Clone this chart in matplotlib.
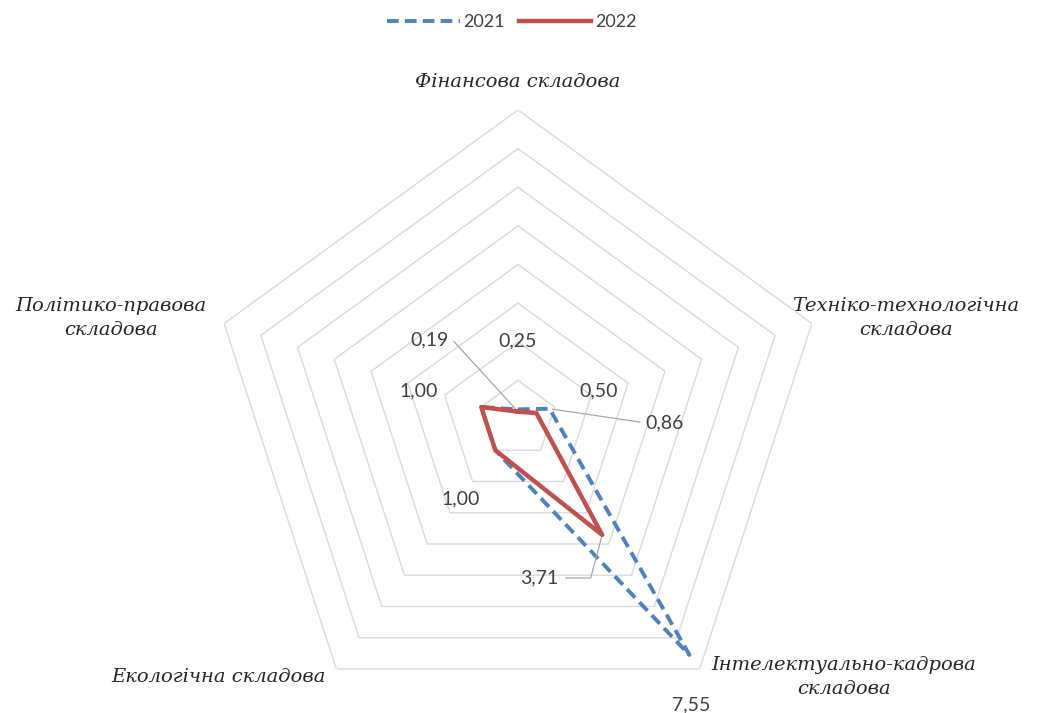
import numpy as np
import matplotlib
matplotlib.use("Agg")
import matplotlib.pyplot as plt

categories = ["Фінансова складова",
              "Техніко-технологічна\nскладова",
              "Інтелектуально-кадрова\nскладова",
              "Екологічна складова",
              "Політико-правова\nскладова"]
years = ["2021", "2022"]
values_2021 = [0.25, 0.86, 7.55, 1.00, 1.00]
values_2022 = [0.19, 0.50, 3.71, 1.00, 1.00]
rings = [1, 2, 3, 4, 5, 6, 7, 8]

W, H = 1062, 713
fig = plt.figure(figsize=(W / 100, H / 100), dpi=100)

# polar axes placed so the pentagon centre sits at (518, 419) px, radius 309 px
cx, cy, R = 518, 419, 309
ax = fig.add_axes([(cx - R) / W, (H - cy - R) / H, 2 * R / W, 2 * R / H],
                  projection="polar")
ax.set_theta_zero_location("N")
ax.set_theta_direction(-1)
ax.set_ylim(0, 8)
ax.grid(False)
ax.set_xticks([])
ax.set_yticks([])
ax.spines["polar"].set_visible(False)
ax.patch.set_alpha(0)

n = len(categories)
theta = np.linspace(0, 2 * np.pi, n, endpoint=False)
theta_c = np.append(theta, theta[0])

# pentagon gridlines
for r in rings:
    ax.plot(theta_c, [r] * (n + 1), color="#d9dae0", lw=1.0, zorder=1)

v21 = np.append(values_2021, values_2021[0])
v22 = np.append(values_2022, values_2022[0])
l21, = ax.plot(theta_c, v21, color="#4f81bd", lw=2.8, ls=(0, (3.0, 1.6)),
               label=years[0], zorder=3)
l22, = ax.plot(theta_c, v22, color="#c0504d", lw=3.2, label=years[1],
               zorder=4)

lab = dict(fontsize=14, color="#404040", family="Lato")
lead = dict(arrowstyle="-", color="#a6a6a6", lw=0.9)

def fmt(v):
    return f"{v:.2f}".replace(".", ",")

# data labels (offsets in points from each point)
ax.annotate(fmt(values_2022[0]), (theta[0], values_2022[0]), xytext=(-64, 52),
            textcoords="offset points", ha="center", va="center",
            arrowprops=dict(**lead, relpos=(1.1, 0.5)), **lab)
ax.annotate(fmt(values_2021[0]), (theta[0], values_2021[0]), xytext=(0, 49),
            textcoords="offset points", ha="center", va="center", **lab)
ax.annotate(fmt(values_2022[1]), (theta[1], values_2022[1]), xytext=(45, 16),
            textcoords="offset points", ha="center", va="center", **lab)
ax.annotate(fmt(values_2021[1]), (theta[1], values_2021[1]), xytext=(83, -10),
            textcoords="offset points", ha="center", va="center",
            arrowprops=dict(**lead, relpos=(-0.05, 0.5)), **lab)
ax.annotate(fmt(values_2022[2]), (theta[2], values_2022[2]), xytext=(-45, -31),
            textcoords="offset points", ha="center", va="center",
            arrowprops=dict(**lead, relpos=(1.1, 0.5),
                            connectionstyle="angle,angleA=0,angleB=75,rad=0"),
            **lab)
ax.annotate(fmt(values_2021[2]), (theta[2], values_2021[2]), xytext=(1, -36),
            textcoords="offset points", ha="center", va="center", **lab)
ax.annotate(fmt(values_2021[3]), (theta[3], values_2021[3]), xytext=(-25, -35),
            textcoords="offset points", ha="center", va="center", **lab)
ax.annotate(fmt(values_2021[4]), (theta[4], values_2021[4]), xytext=(-45, 12),
            textcoords="offset points", ha="center", va="center", **lab)

# category labels
cat_pos = [(518, 82), (906, 318), (844, 677), (218, 677), (111, 318)]
for name, (px, py) in zip(categories, cat_pos):
    fig.text(px / W, 1 - py / H, name, ha="center", va="center",
             fontsize=14, style="italic", family="DejaVu Serif",
             color="#262626", linespacing=1.45)

fig.legend(handles=[l21, l22], loc="center", bbox_to_anchor=(512 / W, 1 - 22 / H),
           ncol=2, frameon=False, handlelength=4.0, columnspacing=0.8,
           handletextpad=0.2, prop=dict(family="Lato", size=13),
           labelcolor="#404040")

fig.savefig("out.png", dpi=100, facecolor="white")
